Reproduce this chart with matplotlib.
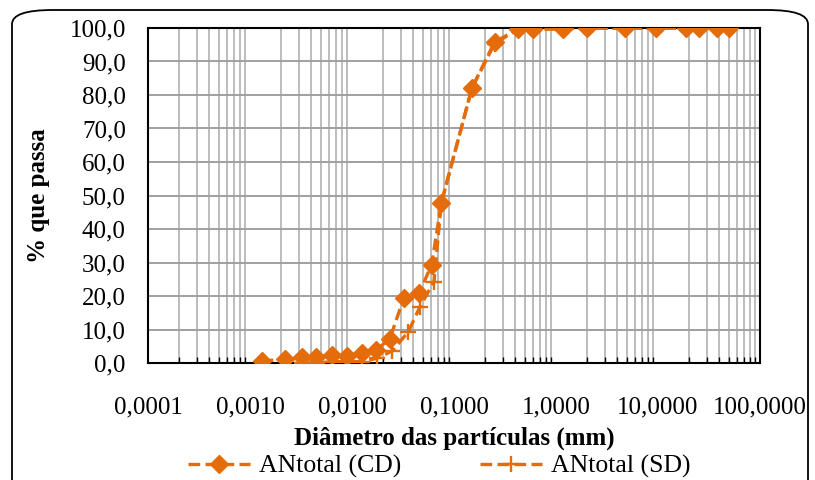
import matplotlib
matplotlib.use("Agg")
import matplotlib.pyplot as plt
from matplotlib.patches import FancyBboxPatch
from matplotlib.ticker import FixedLocator, LogLocator, NullFormatter

# granulometry data (diameter in mm, % passing)
diam_cd = [0.0013, 0.0022, 0.0032, 0.0044, 0.0063, 0.0089, 0.0125, 0.0171, 0.0234,
           0.0321, 0.0456, 0.0604, 0.075, 0.15, 0.25, 0.42, 0.6, 1.18, 2.0, 4.75,
           9.5, 19.0, 25.0, 37.5, 50.0]
pass_cd = [0.6, 1.1, 1.9, 1.8, 2.3, 2.1, 3.1, 3.9, 7.1,
           19.3, 20.9, 29.3, 47.7, 82.1, 95.8, 99.6, 99.6, 99.8, 99.9, 99.9,
           99.9, 99.9, 99.9, 99.9, 99.9]

diam_sd = [0.0032, 0.0045, 0.0064, 0.009, 0.0126, 0.0175, 0.0248, 0.0356, 0.0464,
           0.0637, 0.075, 0.15, 0.25, 0.42, 0.6, 1.18, 2.0, 4.75,
           9.5, 19.0, 25.0, 37.5, 50.0]
pass_sd = [0.0, 0.0, 0.4, 0.4, 0.4, 1.4, 3.6, 9.3, 16.8,
           24.3, 47.7, 82.1, 95.3, 99.6, 99.6, 99.8, 99.9, 99.9,
           99.9, 99.9, 99.9, 99.9, 99.9]

x_ticks = [0.0001, 0.001, 0.01, 0.1, 1, 10, 100]
y_ticks = [0, 10, 20, 30, 40, 50, 60, 70, 80, 90, 100]

orange = "#E46C0A"
plt.rcParams["font.family"] = ["Liberation Serif", "DejaVu Serif"]

fig = plt.figure(figsize=(8.15, 4.8), dpi=100)
ax = fig.add_axes([0.1816, 0.2437, 0.9325 - 0.1816, 0.9417 - 0.2437])

ax.plot(diam_cd, pass_cd, color=orange, linestyle=(0, (3.5, 1.6)), linewidth=2.4,
        marker="D", markersize=9.5, label="ANtotal (CD)", zorder=4)
ax.plot(diam_sd, pass_sd, color=orange, linestyle=(0, (3.5, 1.6)), linewidth=2.4,
        marker="+", markersize=12, markeredgewidth=1.7, label="ANtotal (SD)", zorder=3)

ax.set_xscale("log")
ax.set_xlim(0.0001, 100)
ax.set_ylim(0, 100)

ax.xaxis.set_major_locator(FixedLocator(x_ticks))
ax.set_xticklabels([f"{v:.4f}".replace(".", ",") for v in x_ticks])
ax.xaxis.set_minor_locator(LogLocator(base=10, subs=range(1, 10), numticks=50))
ax.xaxis.set_minor_formatter(NullFormatter())
ax.set_yticks(y_ticks)
ax.set_yticklabels([f"{v:.1f}".replace(".", ",") for v in y_ticks])

ax.tick_params(axis="x", which="major", length=0, pad=24, labelsize=18)
ax.tick_params(axis="x", which="minor", direction="in", length=4, width=1, color="black")
ax.tick_params(axis="y", which="major", length=0, pad=16, labelsize=18)

ax.grid(axis="x", which="minor", color="#bdbdbd", linewidth=1.4)
ax.grid(axis="y", which="major", color="#a0a0a0", linewidth=1.4)
ax.set_axisbelow(True)

for s in ax.spines.values():
    s.set_linewidth(1.5)
    s.set_color("black")

ax.set_xlabel("Diâmetro das partículas (mm)", fontsize=18, fontweight="bold", labelpad=6)
ax.set_ylabel("% que passa", fontsize=18, fontweight="bold", labelpad=14)

fig.legend(loc="center", bbox_to_anchor=(0.539, 0.028), ncol=2, frameon=False,
           fontsize=18.5, handlelength=2.4, columnspacing=3.1, handletextpad=0.35)

# rounded chart frame
frame = FancyBboxPatch((12 / 815, -0.2), 796 / 815, 1.2 - 10 / 480,
                       boxstyle="round,pad=0,rounding_size=0.05",
                       transform=fig.transFigure, fill=False,
                       edgecolor="black", linewidth=1.3, mutation_aspect=480 / 815)
fig.patches.append(frame)

fig.savefig("out.png", dpi=100)
